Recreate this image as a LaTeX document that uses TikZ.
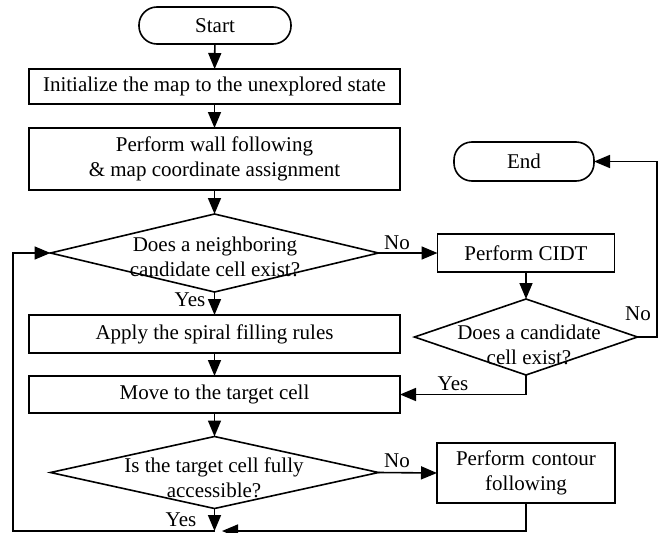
\documentclass[tikz,border=0pt]{standalone}
\usepackage{fontspec}
\setmainfont{Liberation Serif}
\usetikzlibrary{arrows.meta,shapes.geometric}
\begin{document}
\begin{tikzpicture}[x=1pt,y=-1pt,
  every node/.style={font=\fontsize{21}{25}\selectfont},
  arr/.style={line width=1.6pt,-{Triangle[length=16pt,width=13pt]}},
  procbox/.style={draw,line width=1.6pt,rectangle,inner sep=0pt,outer sep=0pt,align=center},
  term/.style={draw,line width=1.6pt,rectangle,rounded corners=18pt,inner sep=0pt,outer sep=0pt},
  decision/.style={draw,line width=1.6pt,diamond,inner sep=0pt,outer sep=0pt},
  txt/.style={inner sep=0pt,align=center},
  lbl/.style={inner sep=0pt}]
\useasboundingbox (0,0) rectangle (662,533);

% main column
\node[term,minimum width=152pt,minimum height=37pt] (start) at (215,25.5) {Start};
\node[procbox,minimum width=371pt,minimum height=35pt] (init) at (214.5,86.5) {Initialize the map to the unexplored state};
\node[procbox,minimum width=371pt,minimum height=62pt] (wall) at (214.5,159) {Perform wall following\\\& map coordinate assignment};
\node[decision,minimum width=328pt,minimum height=78pt] (d1) at (214.5,253) {};
\node[txt] (d1t) at (215,257) {Does a neighboring\\candidate cell exist?};
\node[procbox,minimum width=371pt,minimum height=38pt] (apply) at (214.5,334) {Apply the spiral filling rules};
\node[procbox,minimum width=371pt,minimum height=37pt] (move) at (214.5,394.5) {Move to the target cell};
\node[decision,minimum width=328pt,minimum height=72pt] (d3) at (214.5,472.5) {};
\node[txt] (d3t) at (214,478) {Is the target cell fully\\accessible?};

% right column
\node[term,minimum width=140pt,minimum height=39pt] (end) at (524,161.5) {End};
\node[procbox,minimum width=177pt,minimum height=38pt] (cidt) at (526,253) {Perform CIDT};
\node[decision,minimum width=223pt,minimum height=76pt] (d2) at (526,337) {};
\node[txt] (d2t) at (529,345) {Does a candidate\\cell exist?};
\node[procbox,minimum width=178pt,minimum height=60pt,text width=170pt] (contour) at (526,473) {Perform contour\\following};

\coordinate (bj) at (214.5,531);
\coordinate (bjr) at (222,531);
\coordinate (lc) at (13,531);
\coordinate (rc) at (657,337);

% connectors
\draw[arr] (start) -- (init);
\draw[arr] (init) -- (wall);
\draw[arr] (wall) -- (d1);
\draw[arr] (d1) -- (apply);
\draw[arr] (apply) -- (move);
\draw[arr] (move) -- (d3);
\draw[arr] (d1.east) -- (cidt.west);
\draw[arr] (cidt) -- (d2);
\draw[arr] (d2.east) -- (rc) |- (end.east);
\draw[arr] (d2.south) |- (move.east);
\draw[arr] (d3.east) -- (contour.west);
\draw[arr] (d3.south) -- (bj);
\draw[arr] (contour.south) |- (bjr);
\draw[arr] (bj) -- (lc) |- (d1.west);

% labels
\node[lbl] at (397,243) {No};
\node[lbl] at (190,300) {Yes};
\node[lbl] at (453,384) {Yes};
\node[lbl] at (638,314) {No};
\node[lbl] at (397,461) {No};
\node[lbl] at (181,520) {Yes};
\end{tikzpicture}
\end{document}
